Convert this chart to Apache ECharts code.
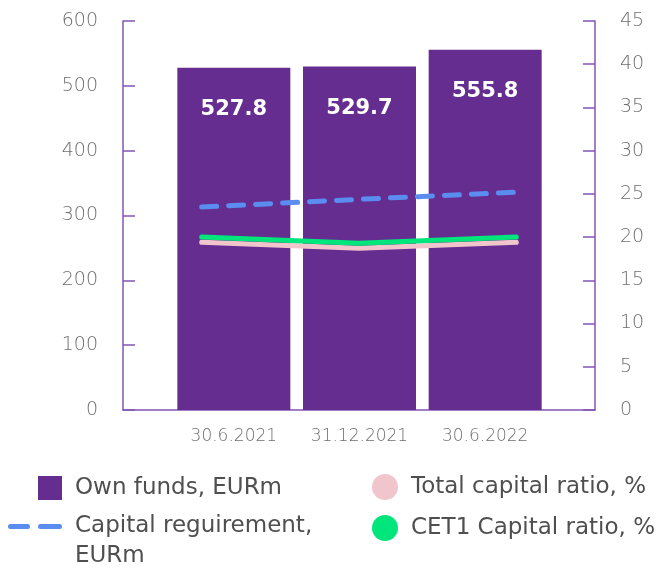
<!DOCTYPE html>
<html>
<head>
<meta charset="utf-8">
<script src="https://cdn.jsdelivr.net/npm/echarts@6/dist/echarts.min.js"></script>
<style>
  html, body { margin: 0; padding: 0; background: #fff; }
  #chart { width: 660px; height: 568px; }
</style>
</head>
<body>
<div id="chart"></div>
<script>
const categories = ['30.6.2021', '31.12.2021', '30.6.2022']
const ownFunds = [527.8, 529.7, 555.8]
const capitalRequirement = [313, 325, 336]
const totalCapitalRatio = [19.4, 18.7, 19.4]
const cet1Ratio = [20.0, 19.3, 20.0]
const leftTicks = { min: 0, max: 600, interval: 100 }
const rightTicks = { min: 0, max: 45, interval: 5 }

const names = {
  own: 'Own funds, EURm',
  req: 'Capital reguirement, EURm',
  total: 'Total capital ratio, %',
  cet1: 'CET1 Capital ratio, %'
}

const font = 'DejaVu Sans'
const axisColor = '#8454b8'
const labelColor = '#6f6f6f'
const legendText = { color: '#4f4f4f', fontSize: 23, fontFamily: font, padding: [0, 0, 0, 8] }

// two rounded dashes for the capital requirement legend icon
const dashIcon = 'path://M2.5,0H19.5A2.5,2.5 0 0 1 19.5,5H2.5A2.5,2.5 0 0 1 2.5,0Z' +
  'M32.5,0H51.5A2.5,2.5 0 0 1 51.5,5H32.5A2.5,2.5 0 0 1 32.5,0Z'

const chart = echarts.init(document.getElementById('chart'))

chart.setOption({
  animation: false,
  grid: [
    { left: 123, right: 65, top: 21, bottom: 158 },
    { left: 171, right: 112, top: 21, bottom: 158 }
  ],
  xAxis: [
    {
      type: 'category', gridIndex: 0, data: categories,
      axisLine: { lineStyle: { color: axisColor, width: 1.5 } },
      axisTick: { show: false }, axisLabel: { show: false }
    },
    {
      type: 'category', gridIndex: 1, data: categories,
      axisLine: { show: false }, axisTick: { show: false },
      axisLabel: {
        interval: 0, hideOverlap: false,
        color: labelColor, fontSize: 17, fontWeight: 200, fontFamily: font, margin: 18
      }
    }
  ],
  yAxis: [
    {
      type: 'value', gridIndex: 0, position: 'left', ...leftTicks,
      splitLine: { show: false },
      axisLine: { show: true, lineStyle: { color: axisColor, width: 1.5 } },
      axisTick: { show: true, inside: true, length: 12, lineStyle: { color: axisColor, width: 1.5 } },
      axisLabel: { color: labelColor, fontSize: 19, fontWeight: 200, fontFamily: font, margin: 25 }
    },
    {
      type: 'value', gridIndex: 0, position: 'right', ...rightTicks,
      splitLine: { show: false },
      axisLine: { show: true, lineStyle: { color: axisColor, width: 1.5 } },
      axisTick: { show: true, inside: true, length: 12, lineStyle: { color: axisColor, width: 1.5 } },
      axisLabel: { color: labelColor, fontSize: 19, fontWeight: 200, fontFamily: font, margin: 25 }
    },
    {
      type: 'value', gridIndex: 1, ...leftTicks, show: false
    }
  ],
  legend: [
    {
      data: [{ name: names.own, icon: 'rect' }],
      left: 38, top: 476, padding: 0, itemWidth: 24, itemHeight: 24, itemGap: 0,
      textStyle: legendText
    },
    {
      data: [{ name: names.total, icon: 'circle' }],
      left: 372, top: 474, padding: 0, itemWidth: 26, itemHeight: 26, itemGap: 0,
      textStyle: legendText
    },
    {
      data: [{ name: names.req, icon: dashIcon }],
      left: 8, top: 515, padding: 0, itemWidth: 54, itemHeight: 5, itemGap: 0,
      formatter: () => 'Capital reguirement,',
      textStyle: legendText
    },
    {
      data: [{ name: names.cet1, icon: 'circle' }],
      left: 372, top: 515, padding: 0, itemWidth: 26, itemHeight: 26, itemGap: 0,
      textStyle: legendText
    }
  ],
  graphic: [
    {
      type: 'text', left: 75, top: 545,
      style: { text: 'EURm', fill: '#4f4f4f', fontSize: 23, fontFamily: font }
    }
  ],
  series: [
    {
      name: names.own, type: 'bar', xAxisIndex: 1, yAxisIndex: 2,
      data: ownFunds, barWidth: 113,
      itemStyle: { color: '#652d90' },
      label: {
        show: true, position: 'insideTop', distance: 31,
        color: '#fff', fontSize: 21, fontWeight: 'bold', fontFamily: font
      }
    },
    {
      name: names.req, type: 'line', xAxisIndex: 0, yAxisIndex: 0,
      data: capitalRequirement, symbol: 'none',
      itemStyle: { color: '#5b8cf0' },
      lineStyle: { color: '#5b8cf0', width: 5, type: [15, 12], cap: 'round' }
    },
    {
      name: names.total, type: 'line', xAxisIndex: 0, yAxisIndex: 1,
      data: totalCapitalRatio, symbol: 'none',
      itemStyle: { color: '#f1c5cc' },
      lineStyle: { color: '#f1c5cc', width: 5, cap: 'round' }
    },
    {
      name: names.cet1, type: 'line', xAxisIndex: 0, yAxisIndex: 1,
      data: cet1Ratio, symbol: 'none',
      itemStyle: { color: '#00e67a' },
      lineStyle: { color: '#00e67a', width: 5, cap: 'round' }
    }
  ]
})
</script>
</body>
</html>
